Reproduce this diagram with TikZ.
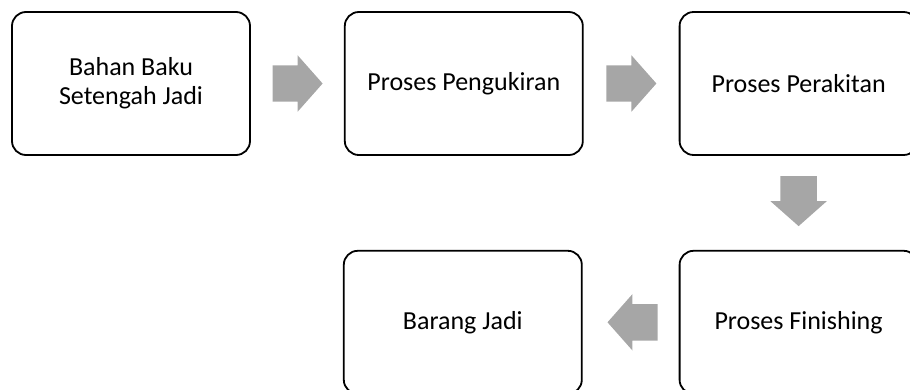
\documentclass[tikz,border=0pt]{standalone}
\usepackage{fontspec}
\setmainfont{Carlito}
\usepackage{tikz}
\usetikzlibrary{positioning,shapes.arrows,calc}

\begin{document}
\begin{tikzpicture}[x=1pt, y=1pt,
  stage/.style={draw, line width=1.8pt, rounded corners=14pt, minimum width=238pt, minimum height=143pt, align=center, font=\fontsize{26}{29}\selectfont},
  flow/.style={single arrow, fill=gray!70, draw=none, anchor=tail, inner xsep=0pt, inner ysep=18pt, minimum height=50pt, single arrow head extend=10pt, single arrow tip angle=97}
]
\useasboundingbox (0,0) rectangle (910,-389);
\node[stage] (bahan) at (131,-83.5) {Bahan Baku\\Setengah Jadi};
\node[stage, right=93pt of bahan] (ukir) {Proses Pengukiran};
\node[stage, right=95pt of ukir] (rakit) {Proses Perakitan};
\node[stage, below=94pt of rakit] (finish) {Proses Finishing};
\node[stage, left=96pt of finish] (jadi) {Barang Jadi};
% block arrows between the stages
\node[flow] (p1) at ($(bahan.east)!0.5!(ukir.west)+(-25,0)$) {};
\node[flow] (p2) at ($(ukir.east)!0.5!(rakit.west)+(-25,0)$) {};
\node[flow, rotate=-90] (p3) at ($(rakit.south)!0.5!(finish.north)+(0,27)$) {};
\node[flow, rotate=180] (p4) at ($(finish.west)!0.5!(jadi.east)+(27,0)$) {};
\end{tikzpicture}
\end{document}
